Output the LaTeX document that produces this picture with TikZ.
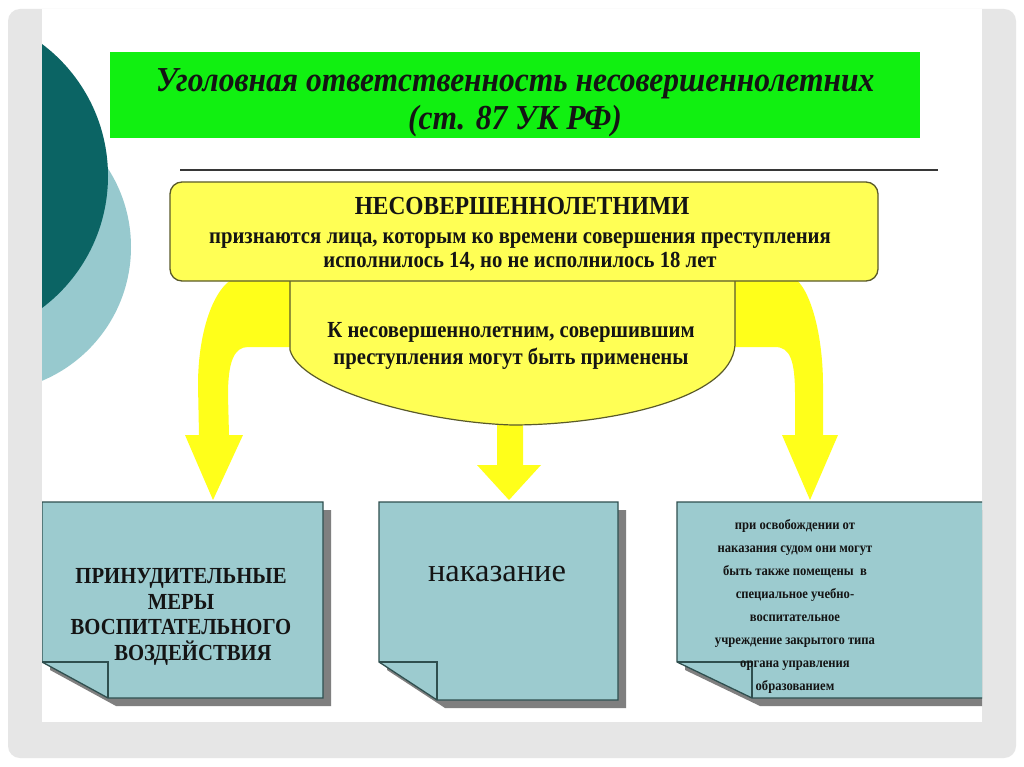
\documentclass[tikz,border=0pt]{standalone}
\usepackage{fontspec}
\setmainfont{Liberation Serif}
\newfontfamily\narrowserif[FakeStretch=0.9]{Liberation Serif}
\definecolor{panelgray}{HTML}{E6E6E6}
\definecolor{darkteal}{HTML}{0B6464}
\definecolor{lightteal}{HTML}{97C9CE}
\definecolor{titlegreen}{HTML}{11F011}
\definecolor{boxyellow}{HTML}{FFFF55}
\definecolor{arrowyellow}{HTML}{FFFF1A}
\definecolor{yellowedge}{HTML}{5A5A2A}
\definecolor{noteteal}{HTML}{9CCBCF}
\definecolor{noteedge}{HTML}{2F4F4F}
\definecolor{shadowgray}{HTML}{7F7F7F}
\definecolor{inkcol}{HTML}{141414}
\tikzset{
  notefill/.style={fill=noteteal, draw=noteedge, line width=1.3pt, line join=miter},
  noteshadow/.style={fill=shadowgray},
  txt/.style={text=inkcol, inner sep=0pt, align=center},
}
\begin{document}
\begin{tikzpicture}[x=1pt,y=-1pt]
\useasboundingbox (0,0) rectangle (1024,767);
% page background
\fill[white] (0,0) rectangle (1024,767);
\fill[panelgray, rounded corners=12pt] (8,9) rectangle (1016,758);
\fill[white] (42,9) rectangle (982,722);
\begin{scope}
\clip (42,9) rectangle (982,722);
% decorative circles
\fill[lightteal] (-14,247) circle[radius=145];
\fill[darkteal] (-57,176) circle[radius=165];
% title
\fill[titlegreen] (110,52) rectangle (920,138);
\node[txt, font=\fontsize{35}{38}\narrowserif\bfseries\itshape] (title) at (515,103)
  {Уголовная ответственность несовершеннолетних\\(ст. 87 УК РФ)};
\draw[line width=1.5pt, inkcol!85] (180,170) -- (938,170);
% yellow band with curved arrows
\fill[arrowyellow] (240,276) -- (790,276)
  .. controls (808,281) and (823,330) .. (823,385)
  -- (823,435) -- (838,435) -- (810,500) -- (782,435) -- (795,435)
  -- (795,395) .. controls (795,360) and (790,347) .. (775,347)
  -- (248,347) .. controls (234,347) and (228,362) .. (228,395)
  -- (229,435) -- (243,435) -- (213,500) -- (185,435) -- (199,435)
  -- (198,385) .. controls (198,330) and (215,281) .. (240,276) -- cycle;
% central arrow
\fill[arrowyellow] (497,415) -- (523,415) -- (523,465) -- (541,465)
  -- (509,500) -- (477,465) -- (497,465) -- cycle;
% central shape
\fill[boxyellow] (290,278) -- (290,350)
  .. controls (300,388) and (420,422) .. (512,425)
  .. controls (600,425) and (731,402) .. (735,345) -- (735,278) -- cycle;
\draw[yellowedge, line width=1.2pt] (290,281) -- (290,350)
  .. controls (300,388) and (420,422) .. (512,425)
  .. controls (600,425) and (731,402) .. (735,345) -- (735,281);
\node[txt, font=\fontsize{23}{27}\narrowserif\bfseries] (mid) at (511,346)
  {К несовершеннолетним, совершившим\\преступления могут быть применены};
% top yellow box
\draw[fill=boxyellow, draw=yellowedge, line width=1.3pt, rounded corners=12pt]
  (170,182) rectangle (878,281);
\node[txt, font=\fontsize{26}{24}\narrowserif\bfseries] (head) at (522,206) {НЕСОВЕРШЕННОЛЕТНИМИ};
\node[txt, font=\fontsize{23}{24}\narrowserif\bfseries] (def) at (520,252)
  {признаются лица, которым ко времени совершения преступления\\исполнилось 14, но не исполнилось 18 лет};
% note boxes: shadows
\fill[noteshadow] (50,510) -- (331,510) -- (331,706) -- (116,706) -- (50,670) -- cycle;
\fill[noteshadow] (387,510) -- (626,510) -- (626,708) -- (445,708) -- (387,670) -- cycle;
\fill[noteshadow] (685,510) -- (1008,510) -- (1008,706) -- (760,706) -- (685,670) -- cycle;
% note boxes
\draw[notefill] (42,502) -- (323,502) -- (323,698) -- (108,698) -- (42,662) -- cycle;
\draw[noteedge, line width=1.3pt] (42,662) -- (108,662) -- (108,698);
\draw[notefill] (379,502) -- (618,502) -- (618,700) -- (437,700) -- (379,662) -- cycle;
\draw[noteedge, line width=1.3pt] (379,662) -- (437,662) -- (437,700);
\draw[notefill] (677,502) -- (1000,502) -- (1000,698) -- (752,698) -- (677,662) -- cycle;
\draw[noteedge, line width=1.3pt] (677,662) -- (752,662) -- (752,698);
% note texts
\node[txt, font=\fontsize{23}{25.7}\narrowserif\bfseries] (b1) at (181,617)
  {ПРИНУДИТЕЛЬНЫЕ\\МЕРЫ\\ВОСПИТАТЕЛЬНОГО\\\hspace*{24pt}ВОЗДЕЙСТВИЯ};
\node[txt, font=\fontsize{32.5}{36}\selectfont] (b2) at (497,574) {наказание};
\node[txt, font=\fontsize{14}{23}\narrowserif\bfseries] (b3) at (795,606)
  {при освобождении от\\наказания судом они могут\\быть также помещены\ \ в\\специальное учебно-\\воспитательное\\учреждение закрытого типа\\органа управления\\образованием};
\end{scope}
\end{tikzpicture}
\end{document}
